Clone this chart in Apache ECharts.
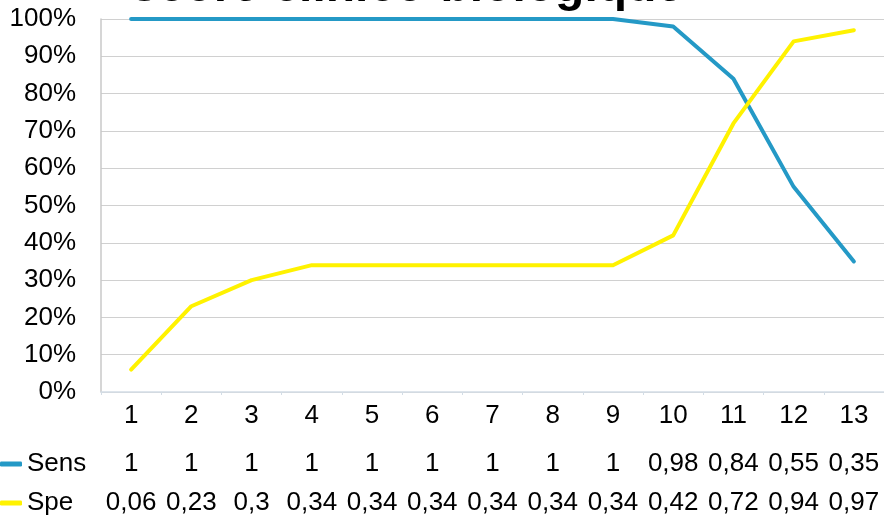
<!DOCTYPE html>
<html>
<head>
<meta charset="utf-8">
<script src="https://cdn.jsdelivr.net/npm/echarts@6/dist/echarts.min.js"></script>
<style>
html,body{margin:0;padding:0;background:#fff;}
#chart{width:884px;height:518px;}
</style>
</head>
<body>
<div id="chart"></div>
<script>
// ---- data ----
const titleText = 'score clinico-biologique';
const categories = ['1','2','3','4','5','6','7','8','9','10','11','12','13'];
const sensName = 'Sens';
const speName = 'Spe';
const sens = [1, 1, 1, 1, 1, 1, 1, 1, 1, 0.98, 0.84, 0.55, 0.35];
const spe = [0.06, 0.23, 0.3, 0.34, 0.34, 0.34, 0.34, 0.34, 0.34, 0.42, 0.72, 0.94, 0.97];

// ---- styles ----
const FONT = '"Liberation Sans", Arial, sans-serif';
const FS = 26;
const BLUE = '#2499c6';
const YELLOW = '#fff200';

function fmt(v){ return String(v).replace('.', ','); }

const tableAxis = (arr, offset) => ({
  type: 'category',
  gridIndex: 0,
  position: 'bottom',
  offset: offset,
  data: categories,
  axisLine: {show: false},
  axisTick: {show: false},
  axisLabel: {
    interval: 0, margin: 11, fontSize: FS, fontFamily: FONT, color: '#000',
    formatter: (val, idx) => fmt(arr[idx])
  }
});

const chart = echarts.init(document.getElementById('chart'), null, {renderer: 'canvas'});
chart.setOption({
  backgroundColor: '#fff',
  animation: false,
  title: {
    text: titleText,
    left: 131,
    top: -36,
    padding: 0,
    textStyle: {fontSize: 48, fontWeight: 'bold', color: '#000', fontFamily: FONT}
  },
  legend: {
    orient: 'vertical',
    left: 0,
    top: 451,
    padding: 0,
    itemGap: 13,
    itemWidth: 22,
    itemHeight: 5,
    icon: 'roundRect',
    textStyle: {fontSize: FS, fontFamily: FONT, color: '#000'},
    data: [sensName, speName]
  },
  grid: {left: 101, top: 19, width: 790, height: 373},
  xAxis: [
    {
      type: 'category',
      data: categories,
      boundaryGap: true,
      axisLine: {lineStyle: {color: '#d3dde6', width: 1.5}},
      axisTick: {show: true, length: 3, lineStyle: {color: '#d3dde6'}},
      axisLabel: {interval: 0, margin: 11, fontSize: FS, fontFamily: FONT, color: '#000'}
    },
    tableAxis(sens, 48),
    tableAxis(spe, 87)
  ],
  yAxis: {
    type: 'value',
    min: 0, max: 1, interval: 0.1,
    axisLine: {show: true, lineStyle: {color: '#c8c8c8', width: 1.5}},
    axisTick: {show: false},
    splitLine: {lineStyle: {color: '#d0d0d0', width: 1.2}},
    axisLabel: {
      margin: 25, fontSize: FS, fontFamily: FONT, color: '#000',
      formatter: v => Math.round(v * 100) + '%'
    }
  },
  series: [
    {
      name: sensName, type: 'line', data: sens, showSymbol: false, symbol: 'none',
      lineStyle: {color: BLUE, width: 4, cap: 'round', join: 'round'},
      itemStyle: {color: BLUE}
    },
    {
      name: speName, type: 'line', data: spe, showSymbol: false, symbol: 'none',
      lineStyle: {color: YELLOW, width: 4, cap: 'round', join: 'round'},
      itemStyle: {color: YELLOW}
    }
  ]
});
</script>
</body>
</html>
